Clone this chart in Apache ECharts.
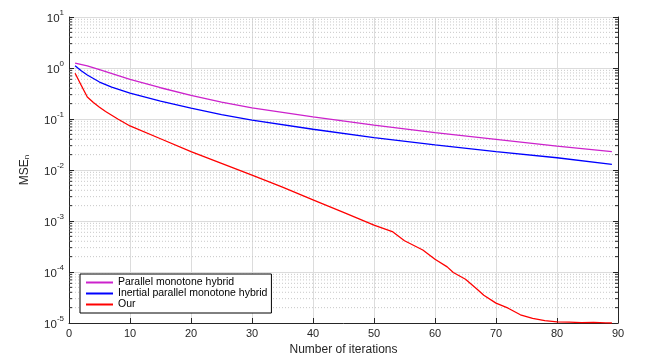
<!DOCTYPE html>
<html>
<head>
<meta charset="utf-8">
<script src="https://cdn.jsdelivr.net/npm/echarts@6/dist/echarts.min.js"></script>
<style>
  html, body { margin: 0; padding: 0; background: #fff; }
  #chart { width: 648px; height: 363px; }
</style>
</head>
<body>
<div id="chart"></div>
<script>
    // values (iteration, MSE)
    var seriesNames = ['Parallel monotone hybrid', 'Inertial parallel monotone hybrid', 'Our'];
    var seriesColors = ['#cc22cc', '#0000ff', '#ff0000'];

    var parallelIter = [1, 3, 5, 10, 15, 20, 25, 30, 40, 50, 60, 70, 80, 89];
    var parallelMse = [1.24, 1.1, 0.93, 0.60, 0.41, 0.29, 0.214, 0.166, 0.11, 0.076, 0.054, 0.040, 0.0295, 0.023];

    var inertialIter = [1, 2, 3, 5, 7, 10, 15, 20, 25, 30, 40, 50, 60, 70, 80, 89];
    var inertialMse = [1.11, 0.88, 0.73, 0.53, 0.42, 0.32, 0.225, 0.163, 0.122, 0.095, 0.063, 0.043, 0.031, 0.023, 0.0174, 0.0129];

    var ourIter = [1, 2, 3, 4, 5, 6, 8, 10, 15, 20, 25, 30, 35, 40, 45, 50, 53, 55, 58, 60, 62, 63, 65, 67, 68, 70, 72, 74, 76, 78, 80, 82, 84, 86, 88, 89];
    var ourMse = [0.79, 0.46, 0.27, 0.21, 0.17, 0.14, 0.10, 0.073, 0.041, 0.023, 0.0135, 0.0079, 0.0046, 0.0026, 0.00148,
        8.3e-4, 6.2e-4, 4.1e-4, 2.7e-4, 1.78e-4, 1.26e-4, 9.8e-5, 7.2e-5, 4.5e-5, 3.5e-5, 2.45e-5, 1.95e-5, 1.45e-5,
        1.23e-5, 1.11e-5, 1.05e-5, 1.04e-5, 1.02e-5, 1.03e-5, 1.01e-5, 1.0e-5];

    var xTicks = [0, 10, 20, 30, 40, 50, 60, 70, 80, 90];

    // minor tick values on the log axis: 2..9 x 10^k
    var minorValues = [];
    for (var k = -5; k < 1; k++) {
        for (var m = 2; m <= 9; m++) {
            minorValues.push([m * Math.pow(10, k)]);
        }
    }

    function pairs(xs, ys) {
        return xs.map(function (x, i) {
            return [x, ys[i]];
        });
    }

    var textColor = '#262626';
    var fontFamily = '"Liberation Sans", Arial, sans-serif';

    var chart = echarts.init(document.getElementById('chart'));

    var lineSeries = [pairs(parallelIter, parallelMse), pairs(inertialIter, inertialMse), pairs(ourIter, ourMse)]
        .map(function (data, i) {
            return {
                name: seriesNames[i],
                type: 'line',
                data: data,
                showSymbol: false,
                symbol: 'none',
                smooth: false,
                z: 5,
                lineStyle: {color: seriesColors[i], width: 1.3},
                itemStyle: {color: seriesColors[i]}
            };
        });

    // minor grid (dotted) and minor ticks on both sides
    var minorSeries = {
        type: 'custom',
        data: minorValues,
        silent: true,
        z: 1,
        encode: {y: 0},
        renderItem: function (params, api) {
            var v = api.value(0);
            var p0 = api.coord([xTicks[0], v]);
            var p1 = api.coord([xTicks[xTicks.length - 1], v]);
            return {
                type: 'group',
                children: [
                    {
                        type: 'line',
                        shape: {x1: p0[0], y1: p0[1], x2: p1[0], y2: p1[1]},
                        style: {stroke: '#c8c8c8', lineWidth: 1, lineDash: [1, 2]}
                    },
                    {
                        type: 'line',
                        shape: {x1: p0[0], y1: p0[1], x2: p0[0] + 3, y2: p0[1]},
                        style: {stroke: textColor, lineWidth: 1}
                    },
                    {
                        type: 'line',
                        shape: {x1: p1[0] - 3, y1: p1[1], x2: p1[0], y2: p1[1]},
                        style: {stroke: textColor, lineWidth: 1}
                    }
                ]
            };
        }
    };

    var logLabel = function (value) {
        var e = Math.round(Math.log(value) / Math.LN10);
        return '{b|10}{s|' + e + '}';
    };

    chart.setOption({
        animation: false,
        backgroundColor: '#ffffff',
        textStyle: {fontFamily: fontFamily, color: textColor},
        grid: {left: 69, right: 30, top: 17, bottom: 40},
        legend: {
            data: seriesNames,
            orient: 'vertical',
            left: 80,
            top: 274,
            itemWidth: 27,
            itemHeight: 2,
            itemGap: 0,
            icon: 'rect',
            padding: [3, 4, 3, 6],
            backgroundColor: '#ffffff',
            borderColor: '#000000',
            borderWidth: 1,
            textStyle: {fontSize: 10.5, color: '#000000', lineHeight: 11, padding: [0, 0, 0, 0]}
        },
        xAxis: {
            type: 'value',
            min: 0,
            max: 90,
            interval: 10,
            name: 'Number of iterations',
            nameLocation: 'middle',
            nameGap: 20,
            nameTextStyle: {fontSize: 12, color: textColor},
            axisLine: {show: true, onZero: false, lineStyle: {color: textColor, width: 1}},
            axisTick: {show: true, inside: true, length: 5, lineStyle: {color: textColor}},
            axisLabel: {fontSize: 11, color: textColor, margin: 5},
            splitLine: {show: true, lineStyle: {color: '#dcdcdc', width: 1}}
        },
        yAxis: [
            {
                type: 'log',
                logBase: 10,
                min: 1e-5,
                max: 10,
                name: '{a|MSE}{n|n}',
                nameLocation: 'middle',
                nameRotate: 90,
                nameGap: 38,
                nameTextStyle: {
                    rich: {
                        a: {fontSize: 12, color: textColor, fontFamily: fontFamily},
                        n: {fontSize: 8, color: textColor, fontFamily: fontFamily, verticalAlign: 'bottom', padding: [4, 0, 0, 0]}
                    }
                },
                axisLine: {show: true, lineStyle: {color: textColor, width: 1}},
                axisTick: {show: true, inside: true, length: 5, lineStyle: {color: textColor}},
                axisLabel: {
                    margin: 5,
                    formatter: logLabel,
                    rich: {
                        b: {fontSize: 11.5, color: textColor, fontFamily: fontFamily, verticalAlign: 'bottom', lineHeight: 16},
                        s: {fontSize: 8, color: textColor, fontFamily: fontFamily, verticalAlign: 'top', lineHeight: 16, padding: [0, 0, 6, 0]}
                    }
                },
                splitLine: {show: true, lineStyle: {color: '#dcdcdc', width: 1}}
            },
            {
                type: 'log',
                logBase: 10,
                min: 1e-5,
                max: 10,
                position: 'right',
                axisLine: {show: true, lineStyle: {color: textColor, width: 1}},
                axisTick: {show: true, inside: true, length: 5, lineStyle: {color: textColor}},
                axisLabel: {show: false},
                splitLine: {show: false}
            }
        ],
        series: [minorSeries].concat(lineSeries)
    });
</script>
</body>
</html>
